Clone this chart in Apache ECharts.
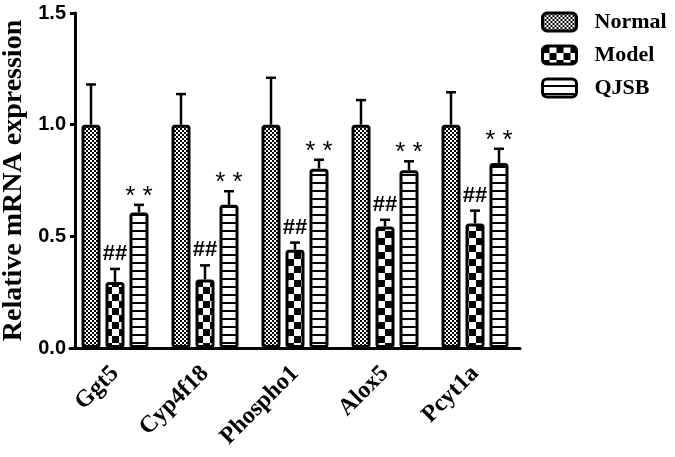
<!DOCTYPE html>
<html>
<head>
<meta charset="utf-8">
<script src="https://cdn.jsdelivr.net/npm/echarts@6/dist/echarts.min.js"></script>
<style>html,body{margin:0;padding:0;background:#fff;}#chart{width:675px;height:457px;}</style>
</head>
<body>
<div id="chart"></div>
<script>
const categories = ['Ggt5', 'Cyp4f18', 'Phospho1', 'Alox5', 'Pcyt1a'];
const seriesNames = ['Normal', 'Model', 'QJSB'];
const normalValues = [1.0, 1.0, 1.0, 1.0, 1.0];
const normalErr = [0.18, 0.137, 0.21, 0.11, 0.145];
const modelValues = [0.296, 0.307, 0.44, 0.544, 0.558];
const modelErr = [0.058, 0.063, 0.032, 0.03, 0.057];
const qjsbValues = [0.607, 0.641, 0.803, 0.796, 0.828];
const qjsbErr = [0.034, 0.061, 0.04, 0.04, 0.064];
const modelMarks = ['##', '##', '##', '##', '##'];
const qjsbMarks = ['* *', '* *', '* *', '* *', '* *'];
const yTicks = [0, 0.5, 1.0, 1.5];

function makePattern(kind) {
  const c = document.createElement('canvas');
  let ctx;
  if (kind === 'fine') {
    c.width = 4; c.height = 4; ctx = c.getContext('2d');
    ctx.fillStyle = '#fff'; ctx.fillRect(0, 0, 4, 4);
    ctx.fillStyle = '#000'; ctx.fillRect(0, 0, 2, 2); ctx.fillRect(2, 2, 2, 2);
  } else if (kind === 'coarse') {
    c.width = 14; c.height = 14; ctx = c.getContext('2d');
    ctx.fillStyle = '#fff'; ctx.fillRect(0, 0, 14, 14);
    ctx.fillStyle = '#000'; ctx.fillRect(0, 0, 7, 7); ctx.fillRect(7, 7, 7, 7);
  } else {
    c.width = 8; c.height = 8; ctx = c.getContext('2d');
    ctx.fillStyle = '#fff'; ctx.fillRect(0, 0, 8, 8);
    ctx.fillStyle = '#000'; ctx.fillRect(0, 6, 8, 2);
  }
  return { image: c, repeat: 'repeat' };
}
const patterns = [makePattern('fine'), makePattern('coarse'), makePattern('lines')];

const BAR_W = 19;
const BAR_GAP = 5;
const serif = 'Liberation Serif';
const sans = 'Liberation Sans';

const groups = [
  { values: normalValues, err: normalErr, marks: null },
  { values: modelValues, err: modelErr, marks: modelMarks },
  { values: qjsbValues, err: qjsbErr, marks: qjsbMarks }
];

const series = [];
groups.forEach((g, k) => {
  series.push({
    name: seriesNames[k],
    type: 'bar',
    barWidth: BAR_W,
    barGap: (BAR_GAP / BAR_W * 100) + '%',
    data: g.values,
    itemStyle: { color: patterns[k], borderColor: '#000', borderWidth: 3, borderRadius: 2 },
    z: 2
  });
});
groups.forEach((g, k) => {
  const offset = (k - 1) * (BAR_W + BAR_GAP);
  series.push({
    type: 'custom',
    z: 3,
    data: g.values.map((v, i) => [i, v, g.err[i]]),
    renderItem: function (params, api) {
      const i = api.value(0), v = api.value(1), e = api.value(2);
      const mark = g.marks ? g.marks[i] : '';
      const p0 = api.coord([i, v]);
      const p1 = api.coord([i, v + e]);
      const x = p0[0] + offset;
      const style = { stroke: '#000', lineWidth: 2.5 };
      const children = [
        { type: 'line', shape: { x1: x, y1: p0[1], x2: x, y2: p1[1] }, style: style },
        { type: 'line', shape: { x1: x - 5, y1: p1[1], x2: x + 5, y2: p1[1] }, style: style }
      ];
      if (mark) {
        const isStar = mark.indexOf('*') >= 0;
        children.push({
          type: 'text',
          style: {
            text: mark, x: x, y: p1[1] - (isStar ? -5 : 4),
            align: 'center', verticalAlign: 'bottom',
            fill: '#000', fontFamily: sans, fontSize: isStar ? 26 : 22, fontWeight: isStar ? 'normal' : 'bold'
          }
        });
      }
      return { type: 'group', children: children };
    }
  });
});

const chart = echarts.init(document.getElementById('chart'));
chart.setOption({
  animation: false,
  backgroundColor: '#fff',
  grid: { left: 70, right: 155, top: 13, bottom: 109, outerBoundsMode: 'none', containLabel: false },
  legend: {
    data: seriesNames,
    orient: 'vertical',
    left: 536, top: 6,
    icon: 'roundRect',
    itemWidth: 34, itemHeight: 18,
    itemGap: 11,
    itemStyle: { borderColor: '#000', borderWidth: 3 },
    textStyle: { fontFamily: serif, fontWeight: 'bold', fontSize: 22, color: '#000', padding: [0, 0, 0, 13] }
  },
  xAxis: {
    type: 'category',
    data: categories,
    axisLine: { lineStyle: { color: '#000', width: 3 } },
    axisTick: { alignWithLabel: true, length: 8, lineStyle: { color: '#000', width: 3 } },
    axisLabel: { rotate: 45, margin: 22, color: '#000', fontFamily: serif, fontWeight: 'bold', fontSize: 24 }
  },
  yAxis: {
    type: 'value',
    min: 0, max: 1.5, interval: 0.5,
    offset: -5,
    name: 'Relative mRNA expression',
    nameLocation: 'middle',
    nameGap: 47,
    nameTextStyle: { fontFamily: serif, fontWeight: 'bold', fontSize: 28, color: '#000' },
    splitLine: { show: false },
    axisLine: { show: true, lineStyle: { color: '#000', width: 3 } },
    axisTick: { show: true, length: 5, lineStyle: { color: '#000', width: 3 } },
    axisLabel: {
      margin: 9, color: '#000', fontFamily: sans, fontWeight: 'bold', fontSize: 20,
      formatter: function (v) { return yTicks.indexOf(v) >= 0 ? v.toFixed(1) : ''; }
    }
  },
  series: series
});
</script>
</body>
</html>
